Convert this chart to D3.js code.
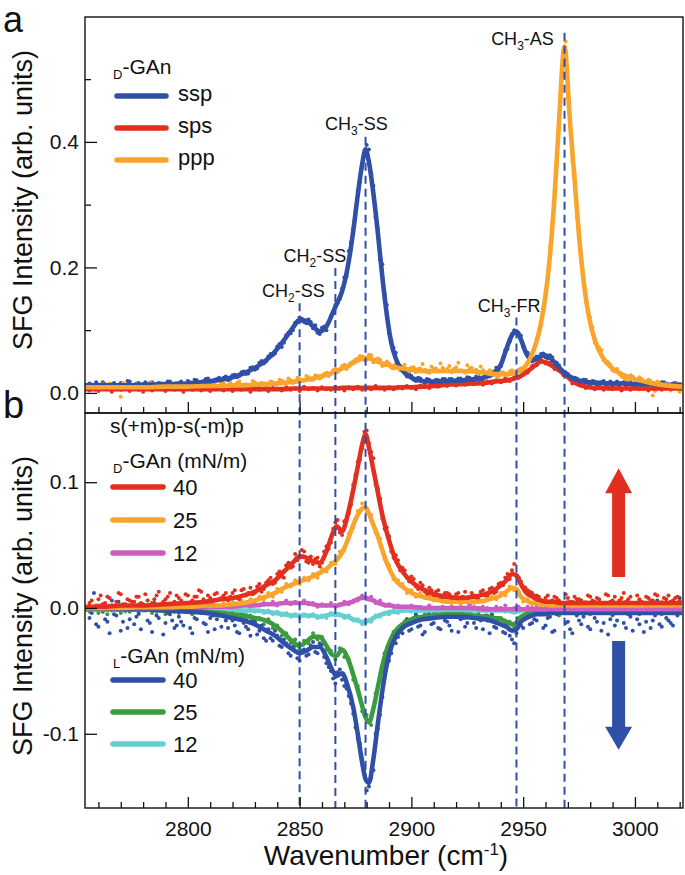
<!DOCTYPE html>
<meta charset="utf-8">
<script src="https://d3js.org/d3.v7.min.js"></script>
<style>
  body { margin: 0; background: #fff; }
  text { font-family: "Liberation Sans", Arial, sans-serif; fill: #111; }
</style>
<div id="chart"></div>
<script>

// wavenumbers (cm-1) where the fitted curves are read
const fitWn = [2754,2762,2770,2780,2790,2800,2808,2815,2820,2825,2830,2835,2839,2843,2847,2850,2853,2856,2859,2862,
  2864.5,2866.5,2869,2871.5,2874,2876,2878,2879.5,2881,2883,2885,2887,2889,2891,2893,2896,2900,2905,2910,2916,
  2922,2928,2933,2937,2940,2942.5,2945,2947,2949,2951.5,2954,2956,2958,2960,2962,2964,2966,2968.5,2971,2973,
  2975,2977,2979.5,2982,2985,2989,2994,3000,3007,3014,3021];

// panel a fits
const sspFit = [0.012,0.012,0.012,0.013,0.014,0.015,0.018,0.021,0.025,0.031,0.040,0.052,0.066,0.084,0.104,0.116,0.115,0.106,0.098,0.106,
  0.125,0.141,0.162,0.200,0.258,0.315,0.365,0.388,0.368,0.318,0.255,0.185,0.125,0.080,0.055,0.036,0.024,0.019,0.018,0.019,
  0.020,0.022,0.025,0.032,0.045,0.070,0.092,0.098,0.085,0.062,0.052,0.054,0.059,0.060,0.056,0.049,0.041,0.032,0.026,0.022,
  0.020,0.018,0.017,0.016,0.016,0.015,0.015,0.014,0.014,0.013,0.013];
const spsFit = [0.006,0.006,0.006,0.006,0.006,0.006,0.006,0.006,0.006,0.006,0.006,0.006,0.006,0.006,0.007,0.007,0.007,0.007,0.007,0.007,
  0.007,0.007,0.008,0.008,0.008,0.008,0.008,0.008,0.008,0.008,0.008,0.008,0.008,0.008,0.008,0.009,0.009,0.010,0.011,0.013,
  0.014,0.015,0.016,0.018,0.019,0.020,0.022,0.024,0.027,0.033,0.040,0.046,0.050,0.049,0.045,0.041,0.036,0.030,0.022,0.017,
  0.013,0.011,0.009,0.008,0.008,0.007,0.007,0.007,0.007,0.007,0.007];
const pppFit = [0.009,0.009,0.009,0.009,0.010,0.010,0.011,0.011,0.012,0.012,0.013,0.014,0.015,0.016,0.018,0.019,0.021,0.023,0.026,0.029,
  0.032,0.035,0.039,0.043,0.048,0.052,0.055,0.056,0.055,0.053,0.050,0.047,0.045,0.043,0.041,0.039,0.037,0.035,0.035,0.035,
  0.035,0.034,0.032,0.030,0.030,0.030,0.031,0.033,0.036,0.045,0.062,0.082,0.112,0.155,0.220,0.310,0.430,0.552,0.430,0.340,
  0.250,0.180,0.120,0.085,0.060,0.042,0.030,0.022,0.016,0.012,0.010];

// panel b fits
const d40Fit = [0.001,0.001,0.002,0.002,0.003,0.004,0.005,0.007,0.008,0.010,0.013,0.018,0.022,0.029,0.036,0.041,0.040,0.037,0.036,0.045,
  0.058,0.065,0.061,0.074,0.094,0.112,0.130,0.138,0.128,0.110,0.092,0.074,0.060,0.048,0.038,0.029,0.021,0.015,0.011,0.009,
  0.008,0.009,0.011,0.014,0.018,0.022,0.027,0.026,0.019,0.012,0.009,0.007,0.006,0.005,0.005,0.005,0.004,0.004,0.004,0.004,
  0.004,0.004,0.004,0.004,0.004,0.004,0.004,0.004,0.004,0.004,0.004];
const d25Fit = [0.000,0.000,0.000,0.001,0.001,0.001,0.002,0.002,0.003,0.004,0.006,0.009,0.012,0.016,0.019,0.021,0.023,0.025,0.028,0.031,
  0.035,0.038,0.044,0.054,0.066,0.074,0.079,0.080,0.075,0.066,0.057,0.046,0.036,0.028,0.022,0.017,0.012,0.009,0.007,0.005,
  0.005,0.005,0.006,0.008,0.010,0.013,0.016,0.015,0.009,0.006,0.004,0.004,0.003,0.003,0.002,0.002,0.002,0.002,0.002,0.002,
  0.002,0.002,0.002,0.002,0.002,0.002,0.002,0.002,0.002,0.002,0.002];
const d12Fit = [0.000,0.000,0.000,0.000,0.000,0.001,0.001,0.001,0.001,0.002,0.002,0.003,0.003,0.004,0.004,0.004,0.004,0.003,0.002,0.002,
  0.002,0.002,0.003,0.004,0.005,0.007,0.008,0.008,0.007,0.006,0.004,0.003,0.002,0.002,0.001,0.001,0.001,0.000,0.000,0.000,
  0.000,0.000,-0.001,-0.001,-0.001,-0.001,-0.001,-0.001,-0.001,-0.001,-0.001,-0.001,-0.001,-0.001,-0.001,-0.001,-0.001,-0.001,-0.001,-0.001,
  -0.001,-0.001,-0.001,-0.001,-0.001,-0.001,-0.001,-0.001,-0.001,-0.001,-0.001];
const l40Fit = [0.000,0.000,-0.001,-0.001,-0.002,-0.003,-0.004,-0.006,-0.008,-0.010,-0.013,-0.018,-0.022,-0.028,-0.033,-0.036,-0.034,-0.031,-0.031,-0.039,
  -0.049,-0.054,-0.052,-0.062,-0.079,-0.100,-0.123,-0.136,-0.139,-0.120,-0.092,-0.066,-0.045,-0.031,-0.023,-0.016,-0.012,-0.009,-0.008,-0.007,
  -0.007,-0.008,-0.009,-0.011,-0.013,-0.015,-0.018,-0.017,-0.011,-0.008,-0.006,-0.005,-0.005,-0.005,-0.004,-0.004,-0.004,-0.004,-0.004,-0.004,
  -0.004,-0.004,-0.004,-0.004,-0.004,-0.004,-0.004,-0.004,-0.004,-0.004,-0.004];
const l25Fit = [-0.001,-0.001,-0.001,-0.001,-0.002,-0.002,-0.003,-0.004,-0.005,-0.006,-0.008,-0.010,-0.014,-0.020,-0.027,-0.030,-0.027,-0.023,-0.023,-0.030,
  -0.037,-0.038,-0.033,-0.040,-0.053,-0.065,-0.078,-0.087,-0.091,-0.080,-0.063,-0.046,-0.033,-0.024,-0.018,-0.013,-0.009,-0.007,-0.006,-0.005,
  -0.005,-0.006,-0.007,-0.008,-0.009,-0.011,-0.013,-0.012,-0.007,-0.005,-0.004,-0.003,-0.003,-0.003,-0.003,-0.003,-0.003,-0.003,-0.003,-0.003,
  -0.003,-0.003,-0.003,-0.003,-0.003,-0.003,-0.003,-0.003,-0.003,-0.003,-0.003];
const l12Fit = [-0.001,-0.001,-0.001,-0.001,-0.001,-0.001,-0.001,-0.001,-0.001,-0.002,-0.002,-0.003,-0.004,-0.005,-0.006,-0.006,-0.006,-0.006,-0.007,-0.006,
  -0.005,-0.005,-0.006,-0.007,-0.009,-0.010,-0.011,-0.011,-0.010,-0.008,-0.006,-0.005,-0.004,-0.003,-0.003,-0.002,-0.002,-0.002,-0.002,-0.002,
  -0.002,-0.002,-0.002,-0.002,-0.002,-0.002,-0.003,-0.003,-0.002,-0.002,-0.002,-0.002,-0.002,-0.002,-0.002,-0.002,-0.002,-0.002,-0.002,-0.002,
  -0.002,-0.002,-0.002,-0.002,-0.002,-0.002,-0.002,-0.002,-0.002,-0.002,-0.002];

// wavenumbers of the measured points (first scan on even, second scan on odd values)
const dotWn = [2756,2758,2760,2762,2764,2766,2768,2770,2772,2774,2776,2778,2780,2782,2784,2786,2788,2790,2792,2794,
  2796,2798,2800,2802,2804,2806,2808,2810,2812,2814,2816,2818,2820,2822,2824,2826,2828,2830,2832,2834,
  2836,2838,2840,2842,2844,2846,2848,2850,2852,2854,2856,2858,2860,2862,2864,2866,2868,2870,2872,2874,
  2876,2878,2880,2882,2884,2886,2888,2890,2892,2894,2896,2898,2900,2902,2904,2906,2908,2910,2912,2914,
  2916,2918,2920,2922,2924,2926,2928,2930,2932,2934,2936,2938,2940,2942,2944,2946,2948,2950,2952,2954,
  2956,2958,2960,2962,2964,2966,2968,2970,2972,2974,2976,2978,2980,2982,2984,2986,2988,2990,2992,2994,
  2996,2998,3000,3002,3004,3006,3008,3010,3012,3014,3016,3018,3020];
const dotWn2 = [2757,2759,2761,2763,2765,2767,2769,2771,2773,2775,2777,2779,2781,2783,2785,2787,2789,2791,2793,2795,
  2797,2799,2801,2803,2805,2807,2809,2811,2813,2815,2817,2819,2821,2823,2825,2827,2829,2831,2833,2835,
  2837,2839,2841,2843,2845,2847,2849,2851,2853,2855,2857,2859,2861,2863,2865,2867,2869,2871,2873,2875,
  2877,2879,2881,2883,2885,2887,2889,2891,2893,2895,2897,2899,2901,2903,2905,2907,2909,2911,2913,2915,
  2917,2919,2921,2923,2925,2927,2929,2931,2933,2935,2937,2939,2941,2943,2945,2947,2949,2951,2953,2955,
  2957,2959,2961,2963,2965,2967,2969,2971,2973,2975,2977,2979,2981,2983,2985,2987,2989,2991,2993,2995,
  2997,2999,3001,3003,3005,3007,3009,3011,3013,3015,3017,3019];

const sspDots = [.015,.010,.013,.017,.011,.014,.009,.016,.012,.018, .011,.016,.014,.010,.017,.013,.015,.011,.018,.014,
  .016,.013,.019,.015,.020,.016,.022,.017,.021,.024, .024,.020,.028,.025,.033,.030,.040,.037,.048,.047,
  .058,.060,.074,.073,.092,.095,.112,.120,.113,.117, .103,.096,.104,.100,.122,.140,.150,.184,.226,.262,
  .322,.360,.395,.350,.280,.212,.158,.095,.072,.044, .040,.026,.027,.019,.023,.016,.021,.015,.020,.022,
  .017,.022,.018,.023,.019,.024,.020,.026,.022,.030, .028,.040,.042,.068,.082,.100,.095,.073,.064,.050,
  .058,.062,.057,.060,.045,.044,.031,.030,.021,.023, .017,.021,.015,.018,.013,.019,.016,.012,.018,.016,
  .013,.017,.015,.012,.018,.014,.016,.011,.017,.015, .013,.016,.014];
const sspDots2 = [.013,.017,.010,.014,.012,.016,.011,.013,.019,.010, .015,.012,.017,.013,.011,.016,.014,.018,.012,.016,
  .018,.015,.017,.021,.016,.019,.023,.018,.022,.020, .026,.022,.029,.027,.034,.031,.041,.039,.051,.050,
  .062,.063,.078,.080,.096,.100,.115,.118,.111,.113, .108,.094,.106,.113,.128,.143,.166,.186,.240,.290,
  .336,.378,.388,.330,.262,.205,.140,.084,.064,.038, .036,.030,.021,.024,.018,.022,.016,.021,.015,.022,
  .022,.017,.023,.019,.025,.020,.026,.021,.029,.026, .035,.036,.056,.070,.094,.095,.091,.066,.060,.055,
  .053,.063,.055,.057,.048,.034,.033,.023,.024,.018, .021,.016,.019,.014,.017,.013,.018,.015,.012,.017,
  .016,.012,.015,.018,.013,.016,.011,.015,.017,.012, .015,.011];
const spsDots = [.004,.008,.003,.007,.006,.002,.009,.005,.007,.003, .008,.005,.002,.007,.004,.009,.006,.003,.008,.005,
  .006,.002,.009,.005,.007,.004,.008,.003,.006,.009, .004,.007,.003,.008,.005,.006,.002,.009,.005,.007,
  .003,.008,.006,.004,.009,.005,.007,.003,.010,.006, .008,.004,.009,.006,.005,.010,.007,.004,.009,.006,
  .010,.005,.008,.006,.011,.007,.005,.009,.006,.010, .007,.011,.008,.006,.012,.009,.008,.012,.010,.013,
  .011,.015,.012,.016,.013,.017,.014,.016,.013,.018, .015,.020,.017,.023,.019,.025,.024,.033,.032,.043,
  .044,.053,.047,.048,.038,.039,.028,.026,.015,.016, .013,.008,.011,.006,.010,.005,.009,.006,.008,.004,
  .009,.005,.008,.006,.010,.004,.007,.009,.005,.008, .006,.009,.005];
const pppDots = [.012,.006,.010,.014,.007,.011,.005,-.006,.009,.013, .008,.013,.006,.011,.015,.009,.007,.012,.010,.014,
  .013,.008,.012,.016,.009,.011,.014,.007,.013,.010, .015,.010,.012,.016,.011,.014,.009,.017,.012,.015,
  .013,.017,.014,.019,.015,.020,.017,.022,.020,.025, .021,.027,.025,.032,.030,.038,.036,.045,.042,.050,
  .055,.058,.053,.060,.050,.053,.044,.047,.039,.044, .042,.036,.040,.033,.039,.037,.032,.038,.034,.040,
  .038,.033,.041,.036,.032,.039,.035,.030,.036,.029, .033,.027,.032,.028,.034,.030,.037,.035,.049,.060,
  .085,.108,.160,.215,.320,.420,.545,.470,.370,.280, .215,.145,.120,.080,.072,.052,.049,.036,.038,.026,
  .022,.028,.016,.025,.006,.021,-.004,.018,.008,.015, .004,.013,.002];
const pppDots2 = [.011,.004,.013,.008,.015,.006,.010,.016,.007,.012, .014,.007,.011,.017,.008,.012,.005,.013,.009,.016,
  .009,.015,.012,.006,.014,.010,.017,.011,.008,.015, .012,.016,.010,.018,.013,.011,.019,.014,.016,.012,
  .018,.014,.021,.017,.023,.016,.024,.020,.027,.021, .028,.023,.030,.027,.036,.033,.043,.038,.048,.053,
  .059,.052,.061,.049,.055,.043,.050,.040,.047,.036, .045,.034,.041,.038,.046,.033,.042,.039,.047,.036,
  .043,.038,.048,.035,.044,.040,.037,.042,.033,.036, .035,.026,.033,.029,.036,.028,.039,.037,.055,.070,
  .094,.135,.180,.270,.360,.500,.560,.440,.350,.260, .175,.130,.105,.075,.068,.048,.045,.034,.030,.024,
  .018,.026,.010,.022,.014,.019,.003,.016,.009,.013, .007,.015];

const d40Dots = [.004,.001,.007,.003,.009,.002,.005,.011,.003,.006, .005,.009,.002,.006,.004,.010,.003,.007,.012,.005,
  .008,.004,.010,.006,.009,.013,.005,.008,.011,.007, .010,.006,.012,.008,.014,.010,.016,.012,.019,.015,
  .022,.019,.027,.025,.034,.032,.043,.040,.045,.036, .035,.040,.036,.049,.052,.068,.060,.069,.075,.098,
  .116,.127,.141,.124,.098,.087,.063,.057,.040,.038, .032,.024,.025,.017,.020,.013,.016,.010,.014,.008,
  .012,.007,.011,.006,.013,.009,.010,.007,.014,.010, .016,.013,.020,.024,.023,.035,.024,.017,.014,.012,
  .010,.005,.008,.004,.009,.006,.003,.008,.005,.007, .006,.003,.009,.005,.007,.004,.010,.006,.003,.008,
  .005,.009,.004,.007,.003,.008,.006,.010,.004,.007, .005,.008,.006];
const d40Dots2 = [.006,.002,.010,.004,.008,.000,.012,.003,.007,.005, .009,.004,.011,.001,.007,.013,.005,.009,.003,.010,
  .006,.011,.003,.009,.014,.007,.010,.004,.012,.008, .012,.009,.014,.007,.015,.012,.011,.017,.013,.020,
  .024,.020,.029,.024,.036,.033,.038,.046,.037,.041, .039,.033,.045,.047,.063,.070,.058,.070,.082,.106,
  .118,.140,.131,.119,.095,.071,.064,.045,.042,.030, .030,.021,.023,.015,.018,.011,.014,.013,.008,.012,
  .011,.006,.012,.009,.007,.012,.008,.013,.010,.015, .012,.019,.018,.027,.030,.025,.021,.016,.013,.010,
  .009,.004,.010,.006,.008,.003,.011,.005,.009,.007, .004,.010,.006,.008,.003,.011,.005,.009,.006,.012,
  .007,.004,.010,.005,.009,.006,.011,.003,.008,.010, .006,.009];
const d25Dots = [.002,-.001,.001,.003,-.002,.002,.000,-.001,.003,.001, .001,.003,-.001,.002,.000,.003,-.002,.002,.001,.004,
  .003,.000,.002,.004,.001,.003,.000,.004,.002,.001, .004,.001,.005,.002,.006,.003,.007,.005,.009,.007,
  .012,.009,.015,.013,.019,.017,.022,.019,.024,.022, .027,.024,.031,.029,.036,.035,.045,.046,.059,.064,
  .077,.083,.076,.074,.060,.055,.039,.034,.023,.022, .019,.012,.014,.009,.012,.008,.010,.006,.008,.005,
  .007,.004,.006,.003,.007,.005,.004,.007,.005,.008, .009,.007,.012,.010,.017,.014,.013,.005,.007,.003,
  .004,.001,.003,.005,.000,.003,.002,.005,.001,.004, .002,.005,.001,.003,.006,.002,.004,.000,.003,.005,
  .001,.004,.002,.006,.003,.000,.004,.002,.005,.003, .004,.001,.003];
const d12Dots = [.001,-.001,.002,.000,-.001,.001,.002,-.001,.000,.001, .000,.002,-.001,.001,.000,.002,-.001,.001,.002,.000,
  .001,.002,.000,.002,.001,-.001,.002,.001,.000,.002, .002,.000,.003,.001,.002,.003,.001,.003,.002,.004,
  .003,.005,.002,.004,.006,.003,.005,.004,.006,.003, .004,.001,.003,.002,.004,.001,.003,.005,.003,.006,
  .006,.010,.007,.009,.004,.006,.002,.003,.001,.002, .001,.000,.002,-.001,.001,.000,.002,.000,-.001,.001,
  .000,.001,-.001,.001,.000,.002,-.001,.000,.001,.000, -.001,.001,.000,.002,-.001,.000,.001,-.001,.001,.000,
  .001,-.001,.000,.001,.000,-.001,.001,.000,.002,-.001, .000,.001,-.001,.000,.001,.000,-.001,.001,.000,.001,
  -.001,.000,.001,.000,-.001,.001,.000,.000,.001,-.001, .000,.001,.000];
const l40Dots = [-.008,.012,-.015,-.003,-.011,.006,-.006,-.018,-.002,-.009, -.013,-.004,.003,-.010,-.019,-.006,.002,-.012,-.005,-.016,
  -.007,-.014,-.003,-.020,-.009,-.004,-.013,-.008,-.017,-.006, -.004,-.016,-.010,-.019,-.008,-.015,-.022,-.011,-.018,-.024,
  -.017,-.026,-.022,-.031,-.028,-.038,-.030,-.042,-.033,-.037, -.027,-.036,-.029,-.044,-.050,-.060,-.049,-.062,-.070,-.084,
  -.104,-.120,-.145,-.135,-.100,-.085,-.050,-.042,-.024,-.023, -.020,-.009,-.017,-.005,-.014,-.019,-.004,-.012,-.016,-.002,
  -.011,-.018,-.003,-.009,-.015,.003,-.012,-.006,-.017,-.010, -.005,-.016,-.009,-.020,-.022,-.028,-.011,-.016,-.003,-.012,
  -.010,.002,-.014,-.007,-.018,-.004,.004,-.011,-.020,-.006, -.013,-.002,-.017,-.008,.003,-.012,-.021,-.005,-.010,.005,
  -.016,-.007,-.002,-.013,-.019,-.004,-.010,.006,-.015,-.008, -.012,-.003,.008];
const l40Dots2 = [-.004,-.013,.002,-.009,-.020,-.005,.005,-.011,-.016,-.001, -.007,-.017,-.002,-.012,.004,-.008,-.021,-.004,-.010,-.014,
  -.011,-.003,-.016,-.008,.001,-.012,-.019,-.006,-.009,-.015, -.010,-.005,-.014,-.020,-.012,-.017,-.009,-.021,-.014,-.026,
  -.024,-.018,-.030,-.025,-.036,-.031,-.040,-.034,-.038,-.030, -.035,-.028,-.039,-.047,-.056,-.051,-.057,-.064,-.076,-.095,
  -.108,-.128,-.142,-.129,-.096,-.071,-.043,-.036,-.028,-.015, -.011,-.018,-.008,-.015,-.021,-.006,-.013,-.003,-.017,-.010,
  -.014,-.004,-.019,-.008,-.012,-.001,-.016,-.010,-.006,-.020, -.015,-.008,-.019,-.012,-.025,-.020,-.014,-.006,-.013,-.009,
  -.002,-.016,-.008,-.019,-.005,.001,-.012,-.017,-.003,-.010, -.007,-.015,-.001,-.011,-.018,-.004,-.009,-.014,.002,-.012,
  -.005,-.018,-.009,.003,-.011,-.016,-.006,-.013,-.002,-.010, -.014,-.006];
const l25Dots = [-.003,.000,-.004,-.001,-.005,-.002,.001,-.004,-.002,-.003, -.001,-.005,-.002,.000,-.004,-.003,-.001,-.005,.000,-.003,
  -.004,-.001,-.003,-.005,-.002,.000,-.004,-.003,-.006,-.002, -.002,-.007,-.004,-.008,-.005,-.009,-.006,-.011,-.008,-.013,
  -.009,-.016,-.014,-.022,-.020,-.028,-.025,-.033,-.026,-.028, -.020,-.025,-.023,-.033,-.034,-.041,-.032,-.039,-.041,-.057,
  -.062,-.082,-.085,-.093,-.068,-.058,-.036,-.031,-.019,-.018, -.015,-.009,-.011,-.006,-.009,-.005,-.008,-.004,-.007,-.003,
  -.007,-.003,-.006,-.004,-.008,-.005,-.007,-.004,-.008,-.006, -.006,-.010,-.008,-.013,-.011,-.015,-.008,-.007,-.003,-.006,
  -.002,-.005,-.003,-.001,-.004,-.006,-.002,-.004,-.001,-.005, -.003,-.001,-.005,-.002,-.004,.000,-.003,-.006,-.002,-.004,
  -.001,-.004,-.003,-.005,-.002,-.004,.000,-.003,-.005,-.002, -.004,-.001,-.003];
const l12Dots = [-.002,.000,-.003,-.001,.001,-.002,-.001,.000,-.003,-.001, .000,-.002,-.001,.006,-.003,-.001,.000,-.002,-.001,-.003,
  -.001,.000,-.002,-.003,-.001,.000,-.002,-.001,-.003,-.002, -.002,.000,-.003,-.001,-.002,-.004,-.001,-.003,-.002,-.004,
  -.002,-.005,-.003,-.006,-.004,-.007,-.005,-.008,-.005,-.007, -.005,-.008,-.006,-.008,-.004,-.006,-.005,-.008,-.006,-.010,
  -.009,-.013,-.010,-.011,-.006,-.007,-.004,-.005,-.002,-.004, -.002,-.001,-.003,.000,-.002,-.001,-.003,-.001,.000,-.002,
  -.001,-.003,.000,-.002,-.001,-.003,.001,-.002,-.001,-.002, -.001,-.002,.000,-.003,-.002,-.004,-.003,-.001,-.002,.000,
  -.002,-.001,-.003,.000,-.002,-.001,-.003,-.001,.000,-.002, -.001,-.003,.001,-.002,-.001,-.002,.000,-.003,-.001,-.002,
  .000,-.002,-.001,-.003,.001,-.002,-.001,.000,-.003,-.001, -.002,.000,-.001];

// vibrational modes: dashed line position, where the line starts (panel a units), label position
const modeWn = [2850, 2866, 2879.5, 2947, 2968.5];
const modeTop = [0.143, 0.199, 0.408, 0.120, 0.574];
const modeLabelWn = [2847.2, 2856.8, 2875.4, 2943.7, 2949.7];
const modeLabelY = [0.153, 0.209, 0.419, 0.129, 0.555];
const modeLabel = [["CH", "2", "-SS"], ["CH", "2", "-SS"], ["CH", "3", "-SS"], ["CH", "3", "-FR"], ["CH", "3", "-AS"]];

// arrows in panel b: [base, head start, tip]
const arrowWn = 2992.7;
const upArrow = [0.0246, 0.0913, 0.111];
const downArrow = [-0.0262, -0.0944, -0.1127];

const xMajor = [2800, 2850, 2900, 2950, 3000];
const xMinor = [2760,2770,2780,2790,2810,2820,2830,2840,2860,2870,2880,2890,2910,2920,2930,2940,2960,2970,2980,2990,3010,3020];

const BLUE = "#3050a8", RED = "#e1301f", ORANGE = "#f9a42c",
  MAGENTA = "#c95dc2", CYAN = "#66d0d0", GREEN = "#3a9b3f";

const svg = d3.select("#chart").append("svg")
  .attr("width", 685).attr("height", 875);

const left = 85, right = 683, topA = 17, mid = 413, bottomB = 808;

const x = d3.scaleLinear().domain([2754, 3021.5]).range([left, right]);
const yA = d3.scaleLinear().domain([-0.032, 0.599]).range([mid, topA]);
const yB = d3.scaleLinear().domain([-0.159, 0.155]).range([bottomB, mid]);

const defs = svg.append("defs");
defs.append("clipPath").attr("id", "clipA").append("rect")
  .attr("x", left).attr("y", topA).attr("width", right - left).attr("height", mid - topA);
defs.append("clipPath").attr("id", "clipB").append("rect")
  .attr("x", left).attr("y", mid).attr("width", right - left).attr("height", bottomB - mid);

function drawDots(g, vals, wn, color) {
  g.append("g").selectAll("circle")
    .data(vals)
    .join("circle")
    .attr("cx", (d, i) => x(wn[i]))
    .attr("cy", d => g.yScale(d))
    .attr("r", 2)
    .attr("fill", color);
}

function drawSeries(y, clip, series) {
  const g = svg.append("g").attr("clip-path", `url(#${clip})`);
  g.yScale = y;
  // measured points first
  series.forEach(s => {
    drawDots(g, s.dots, dotWn, s.color);
    if (s.dots2) drawDots(g, s.dots2, dotWn2, s.color);
  });
  // fitted curves on top
  const line = d3.line()
    .x((d, i) => x(fitWn[i]))
    .y(d => y(d))
    .curve(d3.curveMonotoneX);
  series.forEach(s => {
    g.append("path")
      .datum(s.fit)
      .attr("fill", "none")
      .attr("stroke", s.color)
      .attr("stroke-width", 4.6)
      .attr("stroke-linejoin", "round")
      .attr("d", line);
  });
}

drawSeries(yA, "clipA", [
  { fit: spsFit, dots: spsDots, color: RED },
  { fit: sspFit, dots: sspDots, dots2: sspDots2, color: BLUE },
  { fit: pppFit, dots: pppDots, dots2: pppDots2, color: ORANGE }
]);

drawSeries(yB, "clipB", [
  { fit: l12Fit, dots: l12Dots, color: CYAN },
  { fit: l25Fit, dots: l25Dots, color: GREEN },
  { fit: l40Fit, dots: l40Dots, dots2: l40Dots2, color: BLUE },
  { fit: d12Fit, dots: d12Dots, color: MAGENTA },
  { fit: d25Fit, dots: d25Dots, color: ORANGE },
  { fit: d40Fit, dots: d40Dots, dots2: d40Dots2, color: RED }
]);

// dashed mode lines across both panels
svg.append("g").selectAll("line")
  .data(modeWn)
  .join("line")
  .attr("x1", d => x(d)).attr("x2", d => x(d))
  .attr("y1", (d, i) => yA(modeTop[i]))
  .attr("y2", bottomB)
  .attr("stroke", BLUE)
  .attr("stroke-width", 2)
  .attr("stroke-dasharray", "8,5");

// mode labels
modeLabel.forEach((parts, i) => {
  const t = svg.append("text")
    .attr("x", x(modeLabelWn[i]))
    .attr("y", yA(modeLabelY[i]))
    .attr("text-anchor", "middle")
    .style("font-size", "18px");
  t.append("tspan").text(parts[0]);
  t.append("tspan").text(parts[1]).style("font-size", "12px").attr("dy", 5);
  t.append("tspan").text(parts[2]).attr("dy", -5);
});

// arrows
function arrow(vals, color) {
  const cx = x(arrowWn), base = yB(vals[0]), head = yB(vals[1]), tip = yB(vals[2]);
  const pts = [[cx - 6.5, base], [cx - 6.5, head], [cx - 13.5, head], [cx, tip],
    [cx + 13.5, head], [cx + 6.5, head], [cx + 6.5, base]];
  svg.append("path")
    .attr("d", d3.line()(pts) + "Z")
    .attr("fill", color);
}
arrow(upArrow, RED);
arrow(downArrow, BLUE);

// axes
function styleAxis(g) {
  g.select(".domain").remove();
  g.selectAll(".tick line").attr("stroke", "#111").attr("stroke-width", 1.3);
  g.selectAll(".tick text").style("font-size", "21px")
    .style("font-family", '"Liberation Sans", Arial, sans-serif').attr("fill", "#111");
}

svg.append("g").attr("transform", `translate(0,${mid})`)
  .call(d3.axisBottom(x).tickValues(xMajor).tickSize(-11).tickFormat(""))
  .call(styleAxis);
svg.append("g").attr("transform", `translate(0,${mid})`)
  .call(d3.axisBottom(x).tickValues(xMinor).tickSize(-6).tickFormat(""))
  .call(styleAxis);
svg.append("g").attr("transform", `translate(0,${bottomB})`)
  .call(d3.axisBottom(x).tickValues(xMajor).tickSize(-11).tickPadding(13).tickFormat(d3.format("d")))
  .call(styleAxis);
svg.append("g").attr("transform", `translate(0,${bottomB})`)
  .call(d3.axisBottom(x).tickValues(xMinor).tickSize(-6).tickFormat(""))
  .call(styleAxis);

svg.append("g").attr("transform", `translate(${left},0)`)
  .call(d3.axisLeft(yA).tickValues([0, 0.2, 0.4]).tickSize(-12).tickPadding(6).tickFormat(d => d.toFixed(1)))
  .call(styleAxis);
svg.append("g").attr("transform", `translate(${left},0)`)
  .call(d3.axisLeft(yA).tickValues([0.1, 0.3, 0.5]).tickSize(-6).tickFormat(""))
  .call(styleAxis);
svg.append("g").attr("transform", `translate(${left},0)`)
  .call(d3.axisLeft(yB).tickValues([-0.1, 0, 0.1]).tickSize(-12).tickPadding(6).tickFormat(d => d.toFixed(1)))
  .call(styleAxis);

// frames
svg.append("rect").attr("x", left).attr("y", topA).attr("width", right - left).attr("height", mid - topA)
  .attr("fill", "none").attr("stroke", "#111").attr("stroke-width", 1.4);
svg.append("rect").attr("x", left).attr("y", mid).attr("width", right - left).attr("height", bottomB - mid)
  .attr("fill", "none").attr("stroke", "#111").attr("stroke-width", 1.4);

// axis titles
svg.append("text").attr("transform", "translate(32,200) rotate(-90)")
  .attr("text-anchor", "middle").style("font-size", "27px").text("SFG Intensity (arb. units)");
svg.append("text").attr("transform", "translate(32,606) rotate(-90)")
  .attr("text-anchor", "middle").style("font-size", "27px").text("SFG Intensity (arb. units)");
const xt = svg.append("text").attr("x", 386).attr("y", 865)
  .attr("text-anchor", "middle").style("font-size", "28px");
xt.append("tspan").text("Wavenumber (cm");
xt.append("tspan").text("-1").style("font-size", "17px").attr("dy", -10);
xt.append("tspan").text(")").attr("dy", 10);

// panel letters
svg.append("text").attr("x", 3).attr("y", 32).style("font-size", "36px").text("a");
svg.append("text").attr("x", 3).attr("y", 418).style("font-size", "38px").text("b");

// legends
function legendTitle(xp, yp, sub, rest) {
  const t = svg.append("text").attr("x", xp).attr("y", yp).style("font-size", "21px");
  t.append("tspan").text(sub).style("font-size", "13px").attr("dy", 5);
  t.append("tspan").text(rest).attr("dy", -5);
}
function legendItems(names, colors, ys, x1, x2, tx, off) {
  names.forEach((n, i) => {
    svg.append("line").attr("x1", x1).attr("x2", x2).attr("y1", ys[i]).attr("y2", ys[i])
      .attr("stroke", colors[i]).attr("stroke-width", 5.5).attr("stroke-linecap", "round");
    svg.append("text").attr("x", tx).attr("y", ys[i] + off).style("font-size", "22px").text(n);
  });
}

legendTitle(113, 74, "D", "-GAn");
legendItems(["ssp", "sps", "ppp"], [BLUE, RED, ORANGE], [96, 128, 160], 117, 166, 178, 5);

svg.append("text").attr("x", 110).attr("y", 433).style("font-size", "21px").text("s(+m)p-s(-m)p");
legendTitle(113, 468, "D", "-GAn (mN/m)");
legendItems(["40", "25", "12"], [RED, ORANGE, MAGENTA], [487, 520, 553], 113, 163, 173, 8);

legendTitle(113, 663, "L", "-GAn (mN/m)");
legendItems(["40", "25", "12"], [BLUE, GREEN, CYAN], [680, 712, 744], 113, 163, 173, 8);

</script>
